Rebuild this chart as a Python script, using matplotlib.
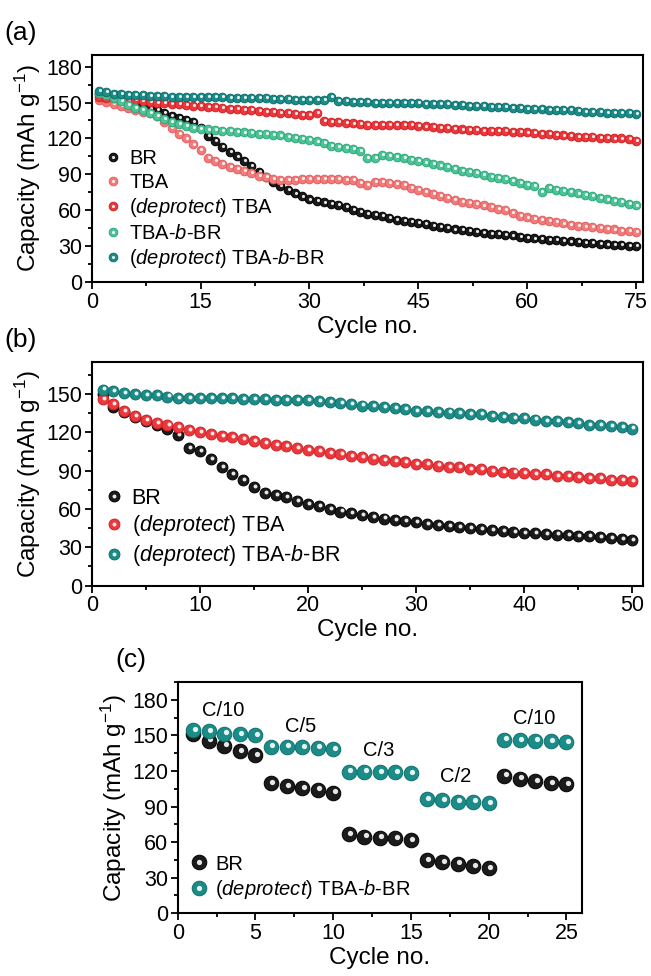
import matplotlib
matplotlib.use('Agg')
import matplotlib.pyplot as plt
from matplotlib.ticker import MultipleLocator
from matplotlib.transforms import offset_copy
from matplotlib.legend_handler import HandlerTuple

plt.rcParams['font.family'] = ['Liberation Sans', 'DejaVu Sans']
plt.rcParams['mathtext.fontset'] = 'custom'
plt.rcParams['mathtext.rm'] = 'Liberation Sans'
plt.rcParams['mathtext.it'] = 'Liberation Sans:italic'
plt.rcParams['axes.linewidth'] = 1.5

# ---- panel (a): 75 cycles ----
cycles_a = list(range(1, 76))
br_a = [157, 155, 153, 151, 149.5, 148, 146.5, 145, 143.5, 141.5,
        139, 137, 135.5, 133.5, 129, 122, 118, 113, 109, 105,
        101, 97, 92, 88, 84, 80, 77, 74, 71.5, 69,
        67.5, 66.5, 65.5, 64.5, 63, 60.5, 58.5, 57, 56, 55,
        53.5, 52, 51, 50.5, 49.5, 48.5, 47, 46, 45, 44,
        43.5, 43, 42, 41, 40.5, 40, 39.5, 39, 38, 37,
        36.5, 36, 35.5, 35, 34.5, 34, 33.5, 33, 32.5, 32,
        31.5, 31, 31, 30.5, 30]
tba_a = [152.5, 150.5, 148.5, 147, 145.5, 144, 142.5, 141, 139, 134,
         129, 124, 120, 115, 110.5, 104, 101, 99, 96.5, 94.5,
         93, 91, 89, 87.5, 86.5, 85, 85, 85.5, 86, 86.5,
         86.5, 86.5, 86, 86, 85.5, 85, 83, 81.5, 84, 84,
         83, 82, 81, 79, 77, 75, 73.5, 72, 70, 68.5,
         67, 66, 65, 64, 62.5, 61, 60, 58, 55, 54,
         53, 52, 51, 50, 49, 48, 47, 46.5, 46, 45,
         44.5, 44, 43, 42.5, 42]
dtba_a = [155, 154, 153.5, 153, 152.5, 152, 151, 150.5, 150, 149.5,
          149, 148.5, 148, 147.5, 147, 146.5, 146, 145.5, 145, 144.5,
          144, 143.5, 143, 142.5, 142, 141.5, 141, 140.5, 140, 139.5,
          141, 134.5, 134, 133.5, 133, 132.5, 132, 131.5, 131.5, 131.5,
          131.5, 131, 131, 131, 130.5, 130, 129.5, 129, 128.5, 128,
          127.5, 127, 127, 126.5, 126.5, 126, 126, 125.5, 125.5, 125,
          124.5, 124, 123.5, 123, 122.5, 122, 121.5, 121, 121, 120.5,
          120.5, 120, 120, 119.5, 118]
tbabr_a = [158, 156, 153.5, 151, 148, 145.5, 143.5, 141.5, 139, 136,
           134, 132, 130.5, 129, 128, 127.5, 127, 126.5, 126, 125.5,
           125, 124.5, 124, 123.5, 123, 122.5, 121.5, 120.5, 119.5, 118.5,
           117.5, 116, 114, 113, 112, 111, 109.5, 103.5, 104, 106.5,
           105.5, 104.5, 103.5, 102, 101, 100, 99, 97.5, 96, 94.5,
           93, 92, 91, 89.5, 88, 87, 86, 84.5, 83, 81.5,
           80, 75.5, 78.5, 77, 76, 75, 74, 73, 72, 70.5,
           69, 68, 67, 65.5, 64]
dtbabr_a = [160, 158.5, 157.5, 157, 156.5, 156, 156, 155.5, 155.5, 155.5,
            155, 155, 155, 155, 155, 154.5, 154.5, 154.5, 154, 154,
            154, 153.5, 153.5, 153.5, 153, 153, 153, 152.5, 152.5, 152.5,
            152, 152, 155, 151, 151, 150.5, 150.5, 150.5, 150, 150,
            150, 150, 149.5, 149.5, 149.5, 149, 149, 148.5, 148.5, 148,
            148, 147.5, 147.5, 147, 146.5, 146.5, 146, 145.5, 145.5, 145,
            144.5, 144.5, 144, 144, 143.5, 143.5, 143, 142.5, 142.5, 142,
            141.5, 141.5, 141, 141, 140.5]

# ---- panel (b): 50 cycles ----
cycles_b = list(range(1, 51))
br_b = [150, 140, 136, 132, 129, 125.5, 123, 118, 108, 105,
        99, 93, 87, 82.5, 77.5, 72.5, 71, 69.5, 66.5, 64,
        62, 60, 58, 56.5, 55, 53.5, 52.5, 51.5, 50.5, 49.5,
        48.5, 47.5, 46.5, 45.5, 45, 44, 43.5, 43, 42, 41.5,
        41, 40.5, 40, 39.5, 39, 38.5, 38, 37, 36.5, 36]
dtba_b = [146, 142.5, 136.5, 133, 129.5, 127.5, 126, 124, 122, 120,
          118.5, 117, 116, 114.5, 113, 111.5, 110, 109, 107.5, 106,
          105, 104, 103, 101.5, 100.5, 99.5, 98.5, 97.5, 96.5, 95.5,
          95, 94, 93, 92.5, 91.5, 91, 90, 89, 88.5, 88,
          87.5, 87, 86, 85.5, 85, 84.5, 84, 83, 82.5, 82]
dtbabr_b = [153.5, 152, 150.5, 150, 149.5, 149, 148, 147, 147, 147,
            146.5, 146.5, 146.5, 146, 146, 146, 145.5, 145.5, 145, 145,
            144.5, 144, 143, 142, 141, 140.5, 140, 139, 138, 137,
            137, 136, 135.5, 135, 134.5, 134, 133, 132, 131.5, 131,
            130, 129, 128.5, 128, 127, 126, 125.5, 125, 124, 123]

# ---- panel (c): rate test ----
cycles_c = list(range(1, 26))
br_c = [151, 145.5, 141.5, 136.5, 133.5, 109.5, 107, 105.5, 104, 101.5,
        66.5, 64.5, 63.5, 63, 61.5, 44.5, 43, 41.5, 39.5, 38,
        116, 113.5, 111.5, 109.5, 109]
dtbabr_c = [154.5, 153.5, 151.5, 151, 150, 140.5, 140.5, 140, 139.5, 138.5,
            119.5, 119.5, 119, 119, 118, 96, 95.5, 94, 94, 93,
            146.5, 146, 145.5, 145, 144.5]
rate_labels = ['C/10', 'C/5', 'C/3', 'C/2', 'C/10']
rate_pos = [(2.9, 171), (7.9, 158), (12.9, 137.5), (17.9, 115), (22.9, 164.5)]

lab_br = 'BR'
lab_tba = 'TBA'
lab_dtba = r'$\it{(deprotect)}$ TBA'
lab_tbabr = r'TBA-$\it{b}$-BR'
lab_dtbabr = r'$\it{(deprotect)}$ TBA-$\it{b}$-BR'

c_br = ('#1b1b1b', '#000000')
c_tba = ('#f27b7b', '#e25f60')
c_dtba = ('#ec383c', '#cf2226')
c_tbabr = ('#4cc497', '#2fa77a')
c_dtbabr = ('#1b8c87', '#0f6f6b')


def balls(ax, x, y, col, ms, z, label):
    # sphere look: coloured ball + small white highlight shifted up-right
    base, = ax.plot(x, y, 'o', ms=ms, mfc=col[0], mec=col[1], mew=0.7,
                    ls='none', zorder=z, clip_on=False)
    tr = offset_copy(ax.transData, fig=ax.figure, x=ms * 0.1, y=ms * 0.1, units='points')
    ax.plot(x, y, 'o', ms=ms * 0.36, mfc='white', mec='none', alpha=0.9,
            ls='none', zorder=z + 0.5, transform=tr, clip_on=False)
    hl, = ax.plot([], [], 'o', ms=ms * 0.36, mfc='white', mec='none', alpha=0.9)
    return (base, hl), label


def style(ax, xmaj, xmin, xlim, ylim):
    ax.set_xlim(xlim)
    ax.set_ylim(ylim)
    ax.xaxis.set_major_locator(MultipleLocator(xmaj))
    ax.xaxis.set_minor_locator(MultipleLocator(xmin))
    ax.yaxis.set_major_locator(MultipleLocator(30))
    ax.yaxis.set_minor_locator(MultipleLocator(15))
    ax.tick_params(which='both', direction='out', width=1.3, labelsize=15.5, pad=2)
    ax.tick_params(which='major', length=5)
    ax.tick_params(which='minor', length=3)
    ax.set_xlabel('Cycle no.', fontsize=17.5, labelpad=2)
    ax.set_ylabel(r'Capacity (mAh g$^{-1}$)', fontsize=17.5, labelpad=2)


def add_legend(ax, hs, y0, fs):
    ax.legend([h[0] for h in hs], [h[1] for h in hs],
              handler_map={tuple: HandlerTuple(ndivide=1)},
              loc='lower left', bbox_to_anchor=(0.0, y0), frameon=False, fontsize=fs,
              handlelength=0.9, handletextpad=0.35, labelspacing=0.22, borderaxespad=0.2)


fig = plt.figure(figsize=(6.51, 9.76), dpi=100)

# (a)
ax1 = fig.add_axes([0.141, 0.711, 0.847, 0.233])
hs = [balls(ax1, cycles_a, br_a, c_br, 6.2, 3, lab_br),
      balls(ax1, cycles_a, tba_a, c_tba, 6.2, 4, lab_tba),
      balls(ax1, cycles_a, dtba_a, c_dtba, 6.2, 5, lab_dtba),
      balls(ax1, cycles_a, tbabr_a, c_tbabr, 6.2, 6, lab_tbabr),
      balls(ax1, cycles_a, dtbabr_a, c_dtbabr, 6.2, 7, lab_dtbabr)]
style(ax1, 15, 7.5, (0, 76), (0, 190))
add_legend(ax1, hs, 0.0, 14.5)

# (b)
ax2 = fig.add_axes([0.141, 0.400, 0.847, 0.229])
hs = [balls(ax2, cycles_b, br_b, c_br, 7.8, 3, lab_br),
      balls(ax2, cycles_b, dtba_b, c_dtba, 7.8, 4, lab_dtba),
      balls(ax2, cycles_b, dtbabr_b, c_dtbabr, 7.8, 5, lab_dtbabr)]
style(ax2, 10, 5, (0, 51), (0, 175))
add_legend(ax2, hs, 0.02, 15.5)

# (c)
ax3 = fig.add_axes([0.273, 0.0645, 0.621, 0.2365])
hs = [balls(ax3, cycles_c, br_c, c_br, 10.5, 3, lab_br),
      balls(ax3, cycles_c, dtbabr_c, c_dtbabr, 10.5, 4, lab_dtbabr)]
style(ax3, 5, 2.5, (0, 26), (0, 195))
for t, (xp, yp) in zip(rate_labels, rate_pos):
    ax3.text(xp, yp, t, fontsize=14.5, ha='center', va='center')
add_legend(ax3, hs, 0.0, 14.5)

fig.text(0.031, 0.966, '(a)', fontsize=19, ha='center', va='center')
fig.text(0.031, 0.652, '(b)', fontsize=19, ha='center', va='center')
fig.text(0.201, 0.324, '(c)', fontsize=19, ha='center', va='center')

fig.savefig('out.png', dpi=100)
